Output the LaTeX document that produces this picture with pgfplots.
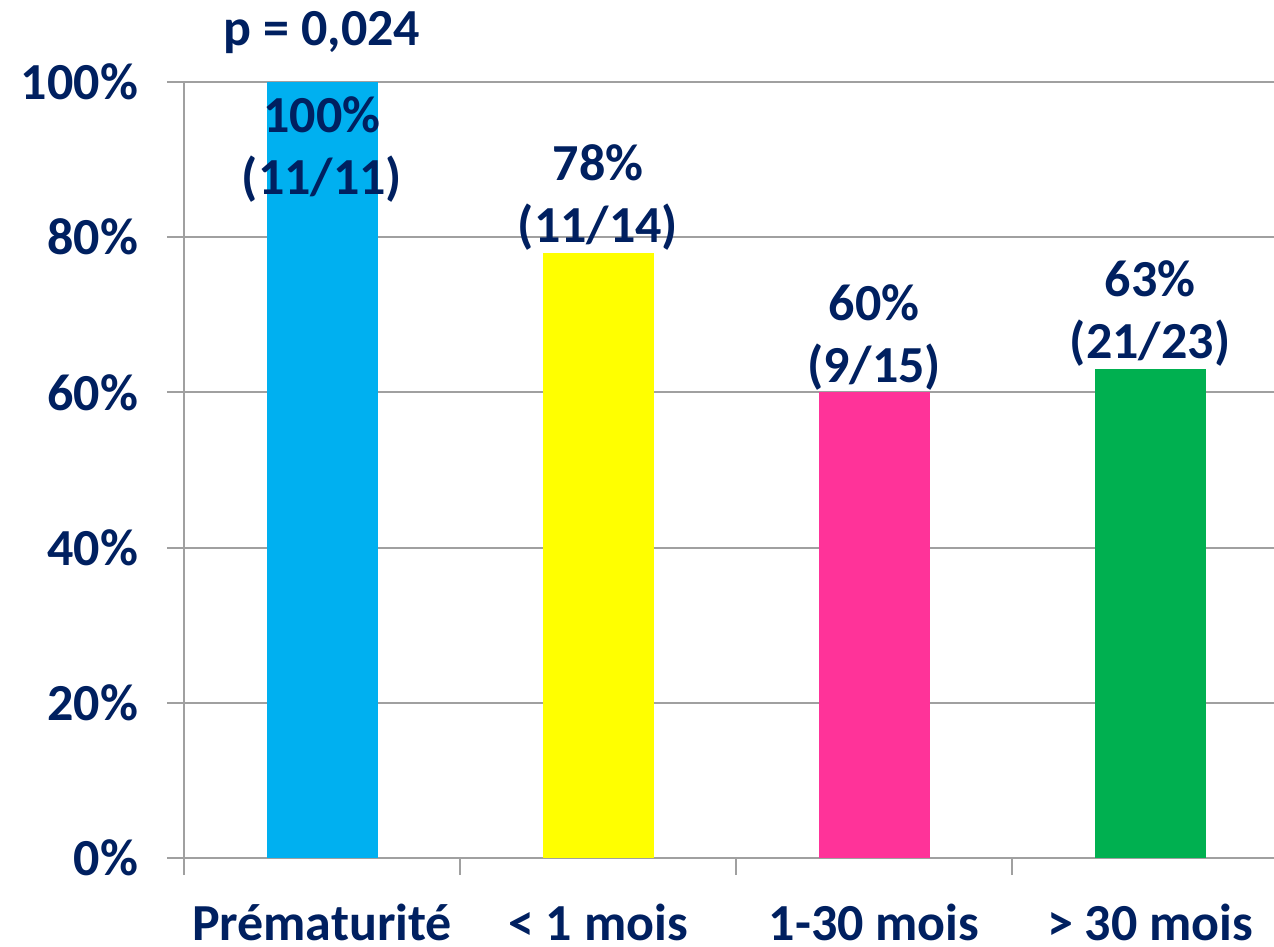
\documentclass[border=0pt]{standalone}
\usepackage{pgfplots}
\pgfplotsset{compat=1.18}
\usepackage{fontspec}
\setmainfont{Carlito}
\definecolor{navy}{HTML}{002060}
\definecolor{barcyan}{HTML}{00B0F0}
\definecolor{baryellow}{HTML}{FFFF00}
\definecolor{barpink}{HTML}{FF3399}
\definecolor{bargreen}{HTML}{00B050}
\definecolor{gridgray}{HTML}{A0A0A0}
\begin{document}
\begin{tikzpicture}[font=\fontsize{26}{31}\selectfont\bfseries, text=navy]
\useasboundingbox (-92pt,-44.5pt) rectangle (545pt,429pt);
\begin{axis}[
    at={(0,0)}, anchor=south west,
    scale only axis,
    width=545pt, height=388pt,
    xmin=-0.5, xmax=3.449,
    ymin=0, ymax=100,
    enlargelimits=false,
    clip=false,
    axis lines=left,
    axis line style={-, draw=gridgray, line width=1pt},
    tick style={draw=gridgray, line width=1pt},
    tick align=outside,
    major tick length=8.5pt,
    minor tick length=8.5pt,
    ymajorgrids,
    grid style={draw=gridgray, line width=1pt},
    ytick={0,20,40,60,80,100},
    yticklabels={0\%,20\%,40\%,60\%,80\%,100\%},
    yticklabel style={xshift=-11pt, text=navy},
    xtick={0,1,2,3},
    xticklabels={Prématurité,< 1 mois,1-30 mois,> 30 mois},
    major x tick style={draw=none},
    minor xtick={-0.5,0.5,1.5,2.5},
    xticklabel style={yshift=-11pt, text=navy},
    every node near coord/.append style={align=center, anchor=south, inner sep=1pt, text=navy},
]
\addplot[ybar, bar shift=0pt, bar width=55.5pt, fill=barcyan, draw=none,
    nodes near coords={100\%\\(11/11)},
    every node near coord/.append style={anchor=north, yshift=-6pt}]
    coordinates {(0,100)};
\addplot[ybar, bar shift=0pt, bar width=55.5pt, fill=baryellow, draw=none,
    nodes near coords={78\%\\(11/14)}]
    coordinates {(1,78)};
\addplot[ybar, bar shift=0pt, bar width=55.5pt, fill=barpink, draw=none,
    nodes near coords={60\%\\(9/15)}]
    coordinates {(2,60)};
\addplot[ybar, bar shift=0pt, bar width=55.5pt, fill=bargreen, draw=none,
    nodes near coords={63\%\\(21/23)}]
    coordinates {(3,63)};
\node[text=navy] at (axis cs:0,106.4) {p = 0,024};
\end{axis}
\end{tikzpicture}
\end{document}
